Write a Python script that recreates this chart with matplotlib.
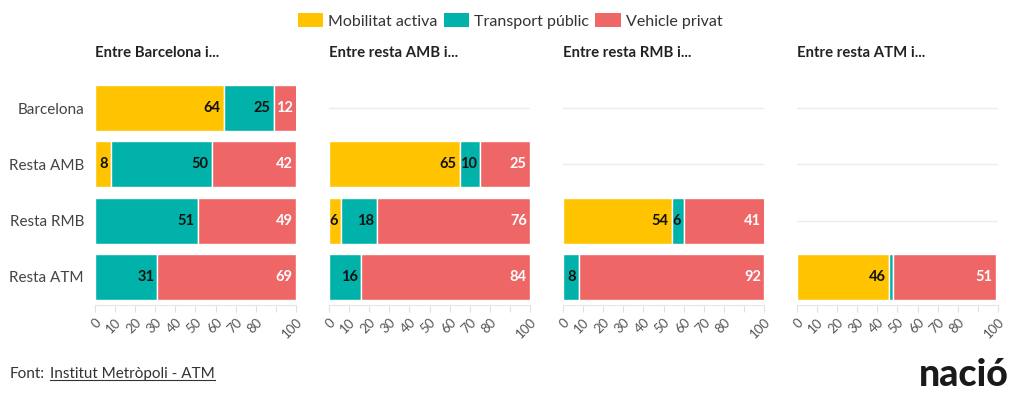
import matplotlib
matplotlib.use("Agg")
import matplotlib.pyplot as plt
from matplotlib.patches import Patch

plt.rcParams['font.family'] = ['Lato', 'DejaVu Sans']

rows = ["Barcelona", "Resta AMB", "Resta RMB", "Resta ATM"]
panel_titles = ["Entre Barcelona i...", "Entre resta AMB i...", "Entre resta RMB i...", "Entre resta ATM i..."]
series_names = ["Mobilitat activa", "Transport públic", "Vehicle privat"]
colors = ["#FFC300", "#00B2A9", "#EE6666"]
label_colors = ["#111111", "#111111", "#FFFFFF"]

# values per panel, per row: [activa, public, privat]; None = no bar
p1_activa = [64, 8, 0, 0]
p1_public = [25, 50, 51, 31]
p1_privat = [12, 42, 49, 69]
p2_activa = [None, 65, 6, 0]
p2_public = [None, 10, 18, 16]
p2_privat = [None, 25, 76, 84]
p3_activa = [None, None, 54, 0]
p3_public = [None, None, 6, 8]
p3_privat = [None, None, 41, 92]
p4_activa = [None, None, None, 46]
p4_public = [None, None, None, 2]
p4_privat = [None, None, None, 51]

panels = [
    (p1_activa, p1_public, p1_privat),
    (p2_activa, p2_public, p2_privat),
    (p3_activa, p3_public, p3_privat),
    (p4_activa, p4_public, p4_privat),
]
xticks = [0, 10, 20, 30, 40, 50, 60, 70, 80, 90, 100]
xticklabels = ["0", "10", "20", "30", "40", "50", "60", "70", "80", "", "100"]

W, H = 1020, 401
fig = plt.figure(figsize=(W / 100, H / 100), dpi=100)

for pi, data in enumerate(panels):
    left_px = 95 + pi * 234
    ax = fig.add_axes([left_px / W, (H - 305) / H, 201 / W, 225 / H])
    ax.set_xlim(0, 100)
    ax.set_ylim(3.5, -0.5)
    for r in range(len(rows)):
        ax.axhline(r, color="#ECECEC", lw=1, zorder=0)
        left = 0
        for si in range(3):
            v = data[si][r]
            if v is None or v == 0:
                continue
            ax.barh(r, v, left=left, height=0.82, color=colors[si],
                    edgecolor="white", linewidth=1, zorder=2)
            if v >= 4:
                ax.text(min(left + v, 100) - 1.6, r, str(v), ha="right", va="center",
                        fontsize=10.5, fontweight="bold", color=label_colors[si], zorder=3)
            left += v
    ax.set_yticks(range(len(rows)))
    if pi == 0:
        ax.set_yticklabels(rows, fontsize=11, color="#444444")
    else:
        ax.set_yticklabels([])
    ax.tick_params(axis="y", length=0, pad=8)
    ax.set_xticks(xticks)
    ax.set_xticklabels(xticklabels, rotation=45, ha="right", rotation_mode="anchor",
                       fontsize=9.5, color="#555555")
    ax.tick_params(axis="x", length=5, color="#E0E0E0", pad=3)
    for s in ["top", "right", "left"]:
        ax.spines[s].set_visible(False)
    ax.spines["bottom"].set_color("#E6E6E6")
    ax.text(0, 1.12, panel_titles[pi], transform=ax.transAxes, ha="left", va="center",
            fontsize=10.7, fontweight="bold", color="#222222")

handles = [Patch(facecolor=c, edgecolor="none") for c in colors]
fig.legend(handles, series_names, loc="center", bbox_to_anchor=(0.5, 1 - 21 / H), ncol=3,
           frameon=False, fontsize=11.5, handlelength=1.6, handleheight=1.0,
           handletextpad=0.3, columnspacing=0.4, labelcolor="#333333")

fig.text(10 / W, 1 - 374 / H, "Font:", ha="left", va="center", fontsize=11, color="#333333")
t = fig.text(50 / W, 1 - 374 / H, "Institut Metròpoli - ATM", ha="left", va="center",
             fontsize=11, color="#333333")
fig.canvas.draw()
bb = t.get_window_extent()
fig.add_artist(plt.Line2D([bb.x0 / W, bb.x1 / W], [(bb.y0 + 1) / H, (bb.y0 + 1) / H],
                          transform=fig.transFigure, color="#333333", lw=0.8))
fig.text(1009 / W, 1 - 375 / H, "nació", ha="right", va="center", fontsize=27,
         fontweight="black", color="#1a1a1a")

fig.savefig("out.png", dpi=100)
